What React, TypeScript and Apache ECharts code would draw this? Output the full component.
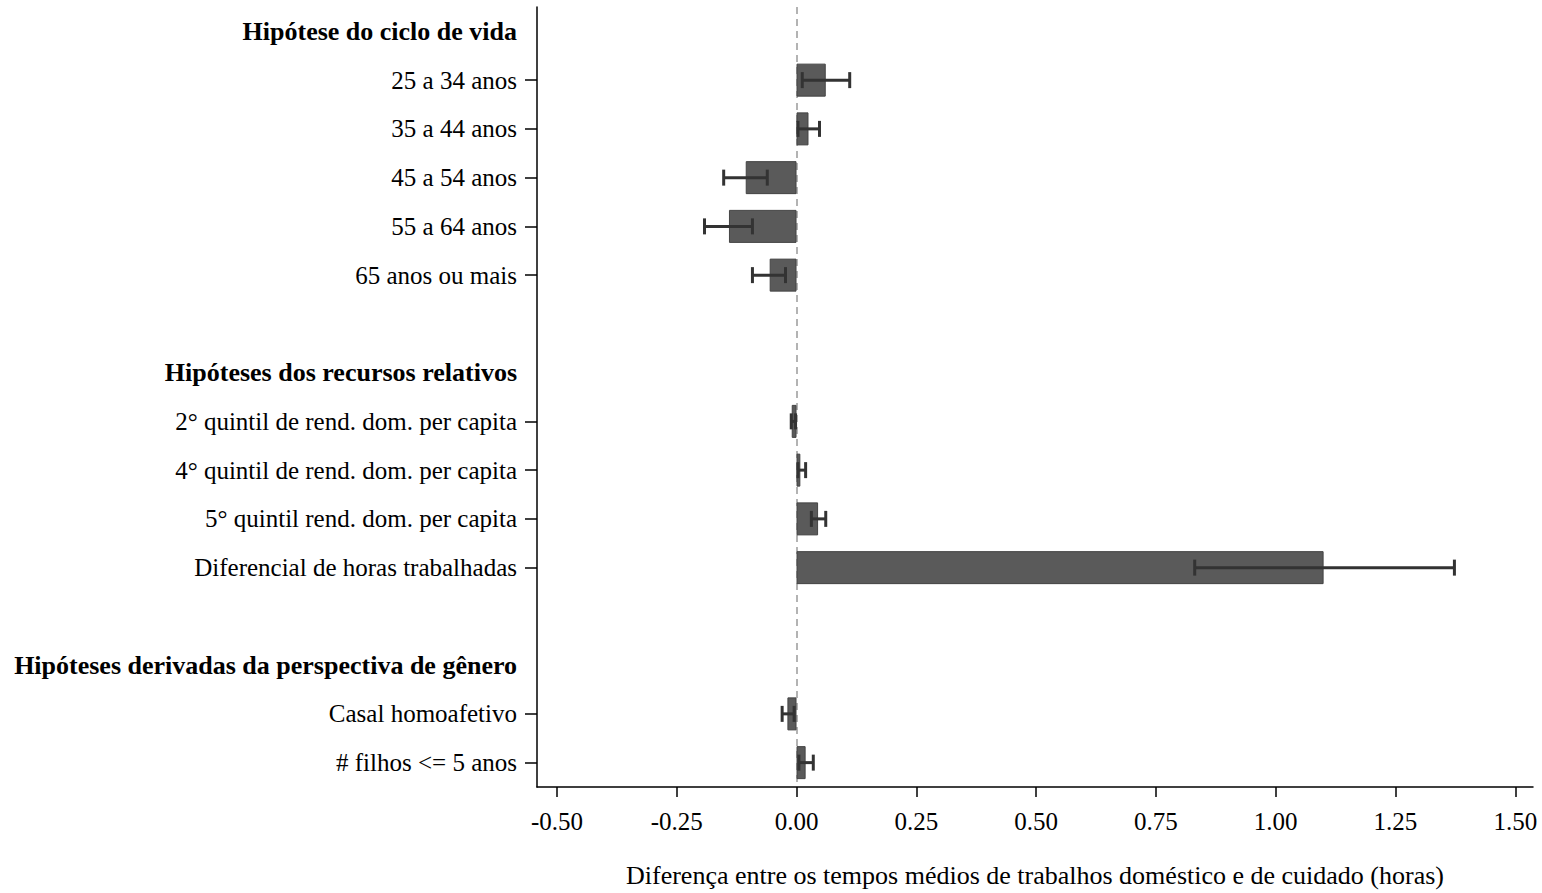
import React, { useEffect, useRef } from "react";
import * as echarts from "echarts";

// Row labels from top to bottom: section headers, items, and blank spacer rows
const rowLabels = [
  "Hipótese do ciclo de vida",
  "25 a 34 anos",
  "35 a 44 anos",
  "45 a 54 anos",
  "55 a 64 anos",
  "65 anos ou mais",
  "",
  "Hipóteses dos recursos relativos",
  "2° quintil de rend. dom. per capita",
  "4° quintil de rend. dom. per capita",
  "5° quintil rend. dom. per capita",
  "Diferencial de horas trabalhadas",
  " ",
  "Hipóteses derivadas da perspectiva de gênero",
  "Casal homoafetivo",
  "# filhos <= 5 anos",
];

const headerRows = [
  "Hipótese do ciclo de vida",
  "Hipóteses dos recursos relativos",
  "Hipóteses derivadas da perspectiva de gênero",
];

// Estimated differences (hours); null where the row holds no estimate
const coefficients = [
  null, 0.061, 0.025, -0.106, -0.141, -0.056,
  null,
  null, -0.010, 0.008, 0.045, 1.1,
  null,
  null, -0.019, 0.019,
];

// Confidence interval bounds
const ciLower = [
  null, 0.012, 0.003, -0.152, -0.192, -0.092,
  null,
  null, -0.011, 0.003, 0.031, 0.831,
  null,
  null, -0.030, 0.005,
];
const ciUpper = [
  null, 0.111, 0.048, -0.061, -0.092, -0.023,
  null,
  null, -0.002, 0.019, 0.061, 1.373,
  null,
  null, -0.005, 0.035,
];

const xTicks = [-0.5, -0.25, 0, 0.25, 0.5, 0.75, 1.0, 1.25, 1.5];

const xTitle =
  "Diferença entre os tempos médios de trabalhos doméstico e de cuidado (horas)";

const FONT = "'Liberation Serif', 'Times New Roman', serif";

export default function App() {
  const ref = useRef<HTMLDivElement>(null);

  useEffect(() => {
    if (!ref.current) return;
    const chart = echarts.init(ref.current, undefined, { renderer: "svg" });

    const errorData = rowLabels
      .map((_, i) => (ciLower[i] == null ? null : [i, ciLower[i], ciUpper[i]]))
      .filter((d) => d !== null);

    chart.setOption({
      animation: false,
      backgroundColor: "#ffffff",
      textStyle: { fontFamily: FONT },
      grid: { left: 537, right: 9, top: 7, bottom: 101, containLabel: false },
      xAxis: {
        type: "value",
        min: -0.5416,
        max: 1.537,
        name: xTitle,
        nameLocation: "middle",
        nameGap: 75,
        nameTextStyle: { fontFamily: FONT, fontSize: 26, color: "#000" },
        axisLine: { show: true, onZero: false, lineStyle: { color: "#000", width: 1.5 } },
        axisTick: {
          show: true,
          length: 10,
          customValues: xTicks,
          lineStyle: { color: "#000", width: 1.5 },
        },
        axisLabel: {
          customValues: xTicks,
          formatter: (v: number) => v.toFixed(2),
          fontFamily: FONT,
          fontSize: 25,
          color: "#000",
          margin: 22,
        },
        splitLine: { show: false },
      },
      yAxis: {
        type: "category",
        inverse: true,
        data: rowLabels,
        axisLine: { show: true, onZero: false, lineStyle: { color: "#000", width: 1.5 } },
        axisTick: {
          show: true,
          length: 12,
          alignWithLabel: true,
          interval: (index: number) => coefficients[index] != null,
          lineStyle: { color: "#000", width: 1.5 },
        },
        axisLabel: {
          interval: 0,
          margin: 20,
          fontFamily: FONT,
          fontSize: 25,
          color: "#000",
          formatter: (v: string) =>
            headerRows.includes(v) ? `{h|${v}}` : `{n|${v}}`,
          rich: {
            h: { fontFamily: FONT, fontSize: 26, fontWeight: "bold", color: "#000" },
            n: { fontFamily: FONT, fontSize: 25, color: "#000" },
          },
        },
        splitLine: { show: false },
      },
      series: [
        {
          type: "bar",
          data: coefficients,
          barWidth: 33,
          itemStyle: { color: "#5a5a5a", borderColor: "#444444", borderWidth: 1 },
          markLine: {
            silent: true,
            symbol: "none",
            label: { show: false },
            lineStyle: { color: "#9a9a9a", type: [7, 5], width: 1.5 },
            data: [{ xAxis: 0 }],
            z: 1,
          },
          z: 2,
        },
        {
          type: "custom",
          data: errorData,
          encode: { x: [1, 2], y: 0 },
          z: 5,
          renderItem: (params: any, api: any) => {
            const idx = api.value(0);
            const lo = api.coord([api.value(1), idx]);
            const hi = api.coord([api.value(2), idx]);
            const half = 8;
            const style = { stroke: "#333333", lineWidth: 3 };
            return {
              type: "group",
              children: [
                { type: "line", shape: { x1: lo[0], y1: lo[1], x2: hi[0], y2: hi[1] }, style },
                { type: "line", shape: { x1: lo[0], y1: lo[1] - half, x2: lo[0], y2: lo[1] + half }, style },
                { type: "line", shape: { x1: hi[0], y1: hi[1] - half, x2: hi[0], y2: hi[1] + half }, style },
              ],
            };
          },
        },
      ],
    });

    return () => chart.dispose();
  }, []);

  return (
    <div
      ref={ref}
      style={{ position: "fixed", left: 0, top: 0, width: 1542, height: 893, background: "#fff" }}
    />
  );
}
